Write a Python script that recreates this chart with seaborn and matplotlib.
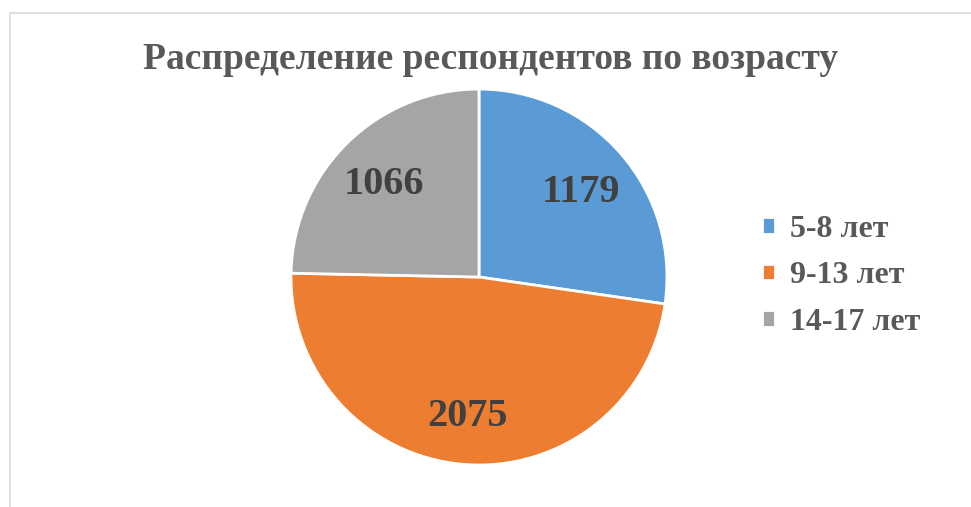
import numpy as np
import seaborn as sns
import matplotlib.pyplot as plt
from matplotlib.patches import Rectangle

TITLE = "Распределение респондентов по возрасту"
AGE_GROUPS = ["5-8 лет", "9-13 лет", "14-17 лет"]
COUNTS = [1179, 2075, 1066]
COLORS = ["#5B9BD5", "#ED7D31", "#A5A5A5"]

sns.set_theme(style="white")
plt.rcParams["font.family"] = ["Liberation Serif", "DejaVu Serif"]
plt.rcParams["font.weight"] = "bold"

fig = plt.figure(figsize=(9.71, 5.07), dpi=100)

# light chart-area border, cut off at right and bottom like the screenshot
fig.patches.append(
    Rectangle((10 / 971, -0.1), 1.2, (507 - 13) / 507 + 0.1,
              transform=fig.transFigure, fill=False,
              edgecolor="#D9D9D9", linewidth=1.2)
)

ax = fig.add_axes([0.2997, 0.0828, 0.3872, 0.7416])
wedges, texts, autotexts = ax.pie(
    COUNTS,
    colors=COLORS,
    startangle=90,
    counterclock=False,
    autopct=lambda p: f"{p * sum(COUNTS) / 100:.0f}",
    pctdistance=0.72,
    wedgeprops={"edgecolor": "white", "linewidth": 2},
    textprops={"fontsize": 29, "fontweight": "bold", "color": "#404040"},
)
for t in autotexts:
    t.set_va("center_baseline")
ax.set_xlim(-1, 1)
ax.set_ylim(-1, 1)

fig.text(0.505, 0.882, TITLE, ha="center", va="center",
         fontsize=27, fontweight="bold", color="#595959")

leg = ax.legend(
    wedges, AGE_GROUPS,
    loc="center left",
    bbox_to_anchor=(0.755, 0.456),
    bbox_transform=fig.transFigure,
    frameon=False,
    handlelength=0.42, handleheight=0.42, handletextpad=0.45,
    labelspacing=0.55,
    prop={"size": 23, "weight": "bold"},
    labelcolor="#595959",
)

fig.savefig("out.png", dpi=100)
